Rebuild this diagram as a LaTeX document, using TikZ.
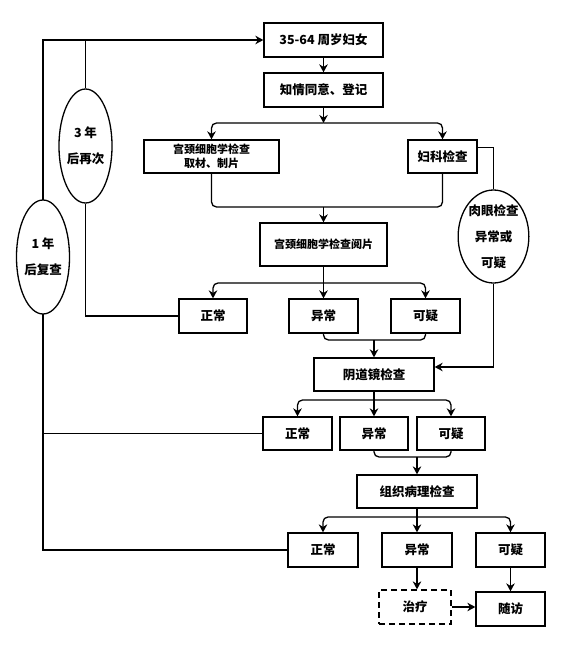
\documentclass[tikz,border=0pt]{standalone}
\usepackage{fontspec}
\newfontfamily\cjk{Noto Sans CJK SC}
\usetikzlibrary{arrows.meta,shapes.geometric,backgrounds,calc}
\begin{document}
\begin{tikzpicture}[x=1pt,y=-1pt,
  every node/.style={font=\cjk\bfseries\fontsize{12.5}{26}\selectfont},
  box/.style={draw,line width=1.3pt,fill=white,rectangle,inner sep=0pt,align=center},
  oval/.style={draw,line width=1.3pt,fill=white,ellipse,inner sep=0pt,align=center},
  small/.style={font=\cjk\bfseries\fontsize{11}{14}\selectfont},
  line/.style={line width=1.3pt,rounded corners=5pt},
  arr/.style={line width=1.3pt,rounded corners=5pt,-{Stealth[length=8pt,width=8.5pt]}},
  sharp/.style={sharp corners}]
\useasboundingbox (0,0) rectangle (560,650);
% nodes
\node[box,minimum width=119pt,minimum height=34pt] (b1) at (323.5,40) {35-64 周岁妇女};
\node[box,minimum width=119pt,minimum height=34pt] (b2) at (323.5,90) {知情同意、登记};
\node[box,small,minimum width=135pt,minimum height=33pt] (cyto) at (211.5,156.5) {宫颈细胞学检查\\取材、制片};
\node[box,minimum width=69pt,minimum height=33pt] (gyn) at (442.5,156.5) {妇科检查};
\node[box,small,minimum width=127pt,minimum height=43pt] (read) at (323.5,244.5) {宫颈细胞学检查阅片};
\node[box,minimum width=68pt,minimum height=34pt] (r1n) at (213,316) {正常};
\node[box,minimum width=69pt,minimum height=34pt] (r1a) at (323.5,316) {异常};
\node[box,minimum width=69pt,minimum height=34pt] (r1s) at (425.5,316) {可疑};
\node[box,minimum width=120pt,minimum height=33pt] (colpo) at (374,374.5) {阴道镜检查};
\node[box,minimum width=69pt,minimum height=33pt] (r2n) at (297.5,433.5) {正常};
\node[box,minimum width=68pt,minimum height=33pt] (r2a) at (374,433.5) {异常};
\node[box,minimum width=68pt,minimum height=33pt] (r2s) at (451,433.5) {可疑};
\node[box,minimum width=120pt,minimum height=33pt] (path) at (417,491.5) {组织病理检查};
\node[box,minimum width=70pt,minimum height=34pt] (r3n) at (323,550) {正常};
\node[box,minimum width=70pt,minimum height=34pt] (r3a) at (417,550) {异常};
\node[box,minimum width=69pt,minimum height=34pt] (r3s) at (510.5,550) {可疑};
\node[box,dashed,dash pattern=on 6pt off 4pt,minimum width=72pt,minimum height=34pt] (treat) at (415,607) {治疗};
\node[box,minimum width=69pt,minimum height=34pt] (follow) at (510.5,609) {随访};
\node[oval,minimum width=52pt,minimum height=114pt] (ell3) at (85.5,146) {3 年\\后再次};
\node[oval,minimum width=51pt,minimum height=114pt] (ell1) at (43,257) {1 年\\后复查};
\node[oval,minimum width=69pt,minimum height=93pt] (ellR) at (493.5,236.5) {肉眼检查\\异常或\\可疑};
% bus coordinates
\coordinate (y1) at (0,123);
\coordinate (y2) at (0,207);
\coordinate (y3) at (0,283);
\coordinate (y4) at (0,340);
\coordinate (y5) at (0,400);
\coordinate (y6) at (0,457);
\coordinate (y7) at (0,517);
\coordinate (ctl) at (43,40);
\begin{pgfonlayer}{background}
\draw[arr] (b1.south) -- (b2.north);
\draw[arr] (b2.south) -- (b2.south |- y1);
\draw[arr] (b2.south |- y1) -| (cyto.north);
\draw[arr] (b2.south |- y1) -| (gyn.north);
\draw[line] (cyto.south) |- (b2.south |- y2) -| (gyn.south);
\draw[arr] (b2.south |- y2) -- (read.north);
\draw[line] (read.south) -- (read.south |- y3);
\draw[arr] (read.south |- y3) -| (r1n.north);
\draw[arr] (read.south |- y3) -| (r1s.north);
\draw[arr] (read.south |- y3) -- (r1a.north);
\draw[line] (r1a.south) |- (colpo.north |- y4) -| (r1s.south);
\draw[arr] (colpo.north |- y4) -- (colpo.north);
\draw[line] (colpo.south) -- (colpo.south |- y5);
\draw[arr] (colpo.south |- y5) -| (r2n.north);
\draw[arr] (colpo.south |- y5) -| (r2s.north);
\draw[arr] (colpo.south |- y5) -- (r2a.north);
\draw[line] (r2a.south) |- (path.north |- y6) -| (r2s.south);
\draw[arr] (path.north |- y6) -- (path.north);
\draw[line] (path.south) -- (path.south |- y7);
\draw[arr] (path.south |- y7) -| (r3n.north);
\draw[arr] (path.south |- y7) -| (r3s.north);
\draw[arr] (path.south |- y7) -- (r3a.north);
\draw[arr] (r3a.south) -- (r3a.south |- treat.north);
\draw[arr] (r3s.south) -- (follow.north);
\draw[arr] (treat.east) -- (treat.east -| follow.west);
% right side
\draw[line,sharp] ($(gyn.north east)+(0,8)$) -| (ellR.north);
\draw[arr,sharp] (ellR.south) |- ($(colpo.east)+(0,-7.5)$);
% left side
\draw[arr,sharp] (r3n.west) -| (ctl) -- (b1.west);
\draw[line,sharp] (r2n.west) -- (r2n.west -| ctl);
\draw[line,sharp] (r1n.west) -| (ell3.south);
\draw[line,sharp] (ell3.north) -- (ell3.north |- ctl);
\end{pgfonlayer}
\end{tikzpicture}
\end{document}
